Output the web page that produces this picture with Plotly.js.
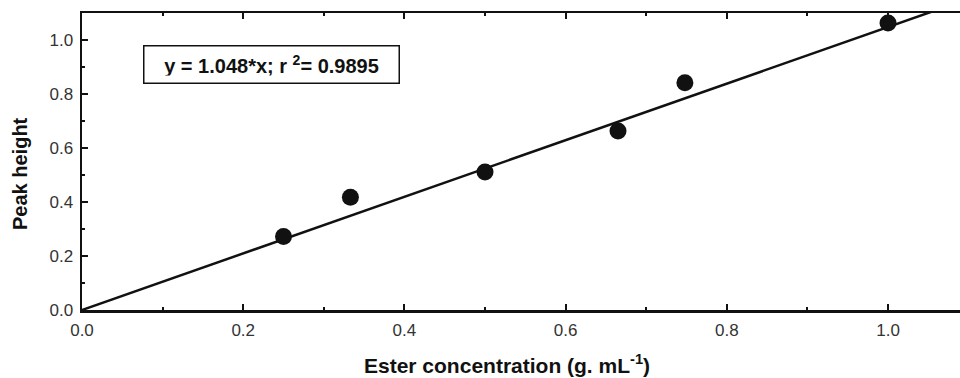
<!DOCTYPE html>
<html><head><meta charset="utf-8">
<script src="https://cdn.plot.ly/plotly-3.0.1.min.js"></script>
<style>body{margin:0;padding:0;background:#fff}#c{width:960px;height:378px}</style>
</head><body><div id="c"></div>
<script>
const concentration = [0.25, 0.333, 0.5, 0.665, 0.748, 1.0];
const peakHeight = [0.272, 0.418, 0.511, 0.663, 0.842, 1.063];
const slope = 1.048;
const fitX = [0, 1.1];
const fitY = fitX.map(x => slope * x);
const xTicks = [0.0, 0.2, 0.4, 0.6, 0.8, 1.0];
const yTicks = [0.0, 0.2, 0.4, 0.6, 0.8, 1.0];
const xTickText = ['0.0', '0.2', '0.4', '0.6', '0.8', '1.0'];
const yTickText = ['0.0', '0.2', '0.4', '0.6', '0.8', '1.0'];
const fitLabel = 'y = 1.048*x; r <sup>2</sup>= 0.9895';
const xTitle = 'Ester concentration (g. mL<sup>-1</sup>)';
const yTitle = 'Peak height';

const fam = 'Liberation Sans, Arial, sans-serif';
function axisCommon() {
  return {
    showline: true, linecolor: '#111', linewidth: 2.5,
    ticks: 'inside', ticklen: 6, tickwidth: 2, tickcolor: '#111',
    showgrid: false, zeroline: false,
    tickfont: {family: fam, size: 17, color: '#333'},
    minor: {ticks: 'inside', ticklen: 3, tickwidth: 2, tickcolor: '#111', dtick: 0.1, showgrid: false}
  };
}

const data = [
  {x: fitX, y: fitY, mode: 'lines', line: {color: '#111', width: 2.5}, hoverinfo: 'skip', showlegend: false},
  {x: concentration, y: peakHeight, mode: 'markers', marker: {color: '#111', size: 17}, showlegend: false},
  {x: [0], y: [0], xaxis: 'x2', mode: 'markers', marker: {opacity: 0}, showlegend: false, hoverinfo: 'skip'}
];

const layout = {
  width: 960, height: 378,
  margin: {l: 82, r: 0, t: 13, b: 68},
  paper_bgcolor: '#fff', plot_bgcolor: '#fff',
  font: {family: fam, color: '#222', size: 17},
  xaxis: Object.assign(axisCommon(), {
    range: [0, 1.0893], tickmode: 'array', tickvals: xTicks, ticktext: xTickText, ticklabelstandoff: 3
  }),
  xaxis2: Object.assign(axisCommon(), {
    overlaying: 'x', side: 'top', matches: 'x', range: [0, 1.0893], tickmode: 'array', tickvals: xTicks,
    showticklabels: false
  }),
  yaxis: Object.assign(axisCommon(), {
    range: [0, 1.1], tickmode: 'array', tickvals: yTicks, ticktext: yTickText, ticklabelstandoff: 3
  }),
  annotations: [{
    xref: 'paper', yref: 'paper', x: (271 - 82) / 878, y: (310 - 64.5) / 297,
    text: '<b>' + fitLabel + '</b>', showarrow: false,
    font: {family: fam, size: 20, color: '#111'},
    bordercolor: '#111', borderwidth: 1.5, borderpad: 7, bgcolor: '#fff',
    width: 240, height: 22, xanchor: 'center', yanchor: 'middle'
  }, {
    xref: 'paper', yref: 'paper', x: (507 - 82) / 878, y: (310 - 364) / 297,
    text: '<b>' + xTitle + '</b>', showarrow: false,
    font: {family: fam, size: 21, color: '#111'}, xanchor: 'center', yanchor: 'middle'
  }, {
    xref: 'paper', yref: 'paper', x: (20 - 82) / 878, y: (310 - 174) / 297,
    text: '<b>' + yTitle + '</b>', showarrow: false, textangle: -90,
    font: {family: fam, size: 20, color: '#111'}, xanchor: 'center', yanchor: 'middle'
  }]
};

Plotly.newPlot('c', data, layout, {displayModeBar: false, staticPlot: true});
</script>
</body></html>
